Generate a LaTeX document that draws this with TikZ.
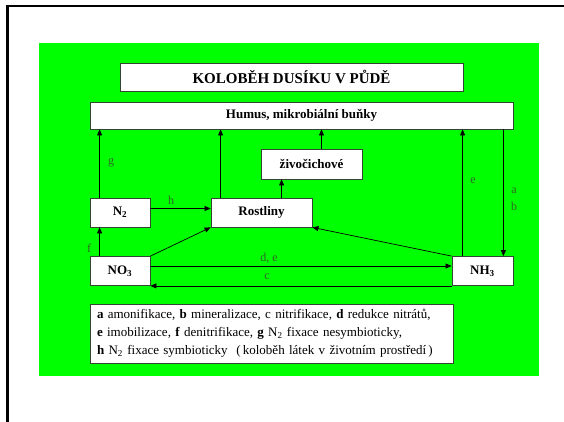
\documentclass[tikz,border=0pt]{standalone}
\usepackage{fontspec}
\setmainfont{Liberation Serif}
\usetikzlibrary{arrows.meta}
\definecolor{bggreen}{RGB}{0,255,0}
\definecolor{lblcol}{RGB}{50,100,40}
\definecolor{boxline}{RGB}{50,70,50}
\begin{document}
\begin{tikzpicture}[x=1pt,y=-1pt,
  box/.style={draw=boxline, line width=0.8pt, fill=white, font=\fontsize{13}{15}\selectfont\bfseries, inner sep=0pt},
  arr/.style={draw=black, line width=0.7pt, -{Triangle[length=6pt,width=5pt]}},
  lbl/.style={text=lblcol, font=\fontsize{12}{14}\selectfont, inner sep=0pt}]
\useasboundingbox (0,0) rectangle (564,422);
\fill[white] (0,0) rectangle (564,422);
\draw[line width=2.5pt] (7.5,422) -- (7.5,6) -- (564,6);
\fill[bggreen] (39,43) rectangle (539,376);

\node[box, minimum width=343pt, minimum height=28pt, font=\fontsize{15}{17}\selectfont\bfseries] (title) at (291.5,77) {KOLOBĚH DUSÍKU V PŮDĚ};
\node[box, minimum width=423pt, minimum height=27pt] (humus) at (301.5,115.5) {Humus, mikrobiální buňky};
\node[box, minimum width=101pt, minimum height=30pt] (ziv) at (311.5,164) {živočichové};
\node[box, minimum width=60pt, minimum height=29pt] (n2) at (120,212.5) {N\textsubscript{2}};
\node[box, minimum width=101pt, minimum height=29pt] (rost) at (261.5,212.5) {Rostliny};
\node[box, minimum width=60pt, minimum height=29pt] (no3) at (120,271) {NO\textsubscript{3}};
\node[box, minimum width=61pt, minimum height=29pt] (nh3) at (482.5,271) {NH\textsubscript{3}};
\node[box, font=\fontsize{13}{18}\selectfont, text width=349pt, align=left, minimum height=59pt, inner xsep=7pt] (legend) at (271.5,333.5)
 {\textbf{a} amonifikace, \textbf{b} mineralizace, c nitrifikace, \textbf{d} redukce nitrátů,\\
  \textbf{e} imobilizace, \textbf{f} denitrifikace, \textbf{g} N\textsubscript{2} fixace nesymbioticky,\\
  \textbf{h} N\textsubscript{2} fixace symbioticky \ (\,koloběh látek v životním prostředí\,)};

% connector anchor points
\coordinate (gS) at ([xshift=10pt]n2.north west);
\coordinate (rS) at ([xshift=10pt]rost.north west);
\coordinate (zS) at ([xshift=10pt]ziv.north);
\coordinate (eS) at ([xshift=11pt]nh3.north west);
\coordinate (abE) at ([xshift=-10pt]nh3.north east);
\coordinate (fS) at ([xshift=10pt]no3.north west);
\coordinate (rzS) at ([xshift=21pt]ziv.south west);
\coordinate (hS) at ([yshift=4pt]n2.east);
\coordinate (deS) at ([yshift=5pt]no3.east);

\draw[arr] (gS) -- (gS |- humus.south);
\draw[arr] (rS) -- (rS |- humus.south);
\draw[arr] (zS) -- (zS |- humus.south);
\draw[arr] (eS) -- (eS |- humus.south);
\draw[arr] (abE |- humus.south) -- (abE);
\draw[arr] (fS) -- (fS |- n2.south);
\draw[arr] (rzS |- rost.north) -- (rzS);
\draw[arr] (hS) -- (hS -| rost.west);
\draw[arr] (deS) -- (deS -| nh3.west);
\draw[arr] (nh3.south west) -- (no3.south east);
\draw[arr] (no3.north east) -- (rost.south west);
\draw[arr] (nh3.north west) -- (rost.south east);

% labels
\node[lbl] (lg) at (111,163) {g};
\node[lbl] (lh) at (171,200) {h};
\node[lbl] (lde) at (269,258) {d, e};
\node[lbl] (lc) at (267,277) {c};
\node[lbl] (lf) at (89,248) {f};
\node[lbl] (le) at (473,181) {e};
\node[lbl] (la) at (514,191) {a};
\node[lbl] (lb) at (514,206) {b};
\end{tikzpicture}
\end{document}
